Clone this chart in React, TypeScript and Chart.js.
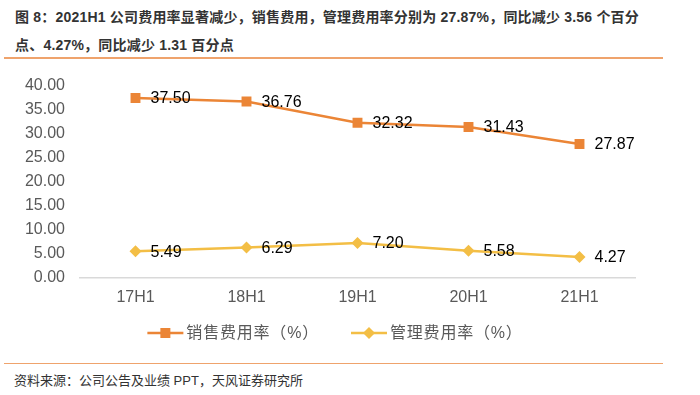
import React, { useEffect, useRef } from "react";
import { Chart, registerables } from "chart.js";

Chart.register(...registerables);

const categories = ["17H1", "18H1", "19H1", "20H1", "21H1"];
const salesRate = [37.5, 36.76, 32.32, 31.43, 27.87];
const adminRate = [5.49, 6.29, 7.2, 5.58, 4.27];
const yTicks = [0, 5, 10, 15, 20, 25, 30, 35, 40];
const seriesNames = ["销售费用率（%）", "管理费用率（%）"];

const ORANGE = "#EB8536";
const YELLOW = "#F3BE45";
const FONT = '"Liberation Sans", "Noto Sans CJK SC", Arial, sans-serif';

const dataLabels = {
  id: "dataLabels",
  afterDatasetsDraw(chart: any) {
    const ctx = chart.ctx;
    ctx.save();
    ctx.font = `16px ${FONT}`;
    ctx.fillStyle = "#000";
    ctx.textAlign = "left";
    ctx.textBaseline = "middle";
    chart.data.datasets.forEach((ds: any, i: number) => {
      const meta = chart.getDatasetMeta(i);
      meta.data.forEach((pt: any, j: number) => {
        ctx.fillText(Number(ds.data[j]).toFixed(2), pt.x + 15, pt.y + 1);
      });
    });
    ctx.restore();
  },
};

const customLegend = {
  id: "customLegend",
  afterDraw(chart: any) {
    const ctx = chart.ctx;
    ctx.save();
    ctx.font = `16px ${FONT}`;
    (ctx as any).letterSpacing = "0.8px";
    const y = 273;
    const lineLen = 36;
    const gapText = 3;
    const gapItems = 32;
    const widths = chart.data.datasets.map((ds: any) => lineLen + gapText + ctx.measureText(ds.label).width);
    const total = widths.reduce((a: number, b: number) => a + b, 0) + gapItems * (widths.length - 1);
    let x = 335 - total / 2;
    chart.data.datasets.forEach((ds: any, i: number) => {
      ctx.strokeStyle = ds.borderColor;
      ctx.lineWidth = 2.5;
      ctx.beginPath();
      ctx.moveTo(x, y);
      ctx.lineTo(x + lineLen, y);
      ctx.stroke();
      ctx.fillStyle = ds.backgroundColor;
      const cx = x + lineLen / 2;
      if (ds.pointStyle === "rect") {
        ctx.fillRect(cx - 5, y - 5, 10, 10);
      } else {
        ctx.beginPath();
        ctx.moveTo(cx, y - 6);
        ctx.lineTo(cx + 6, y);
        ctx.lineTo(cx, y + 6);
        ctx.lineTo(cx - 6, y);
        ctx.closePath();
        ctx.fill();
      }
      ctx.fillStyle = "#595959";
      ctx.textAlign = "left";
      ctx.textBaseline = "middle";
      ctx.fillText(ds.label, x + lineLen + gapText, y + 1);
      x += widths[i] + gapItems;
    });
    ctx.restore();
  },
};

export default function App() {
  const ref = useRef<HTMLCanvasElement>(null);
  useEffect(() => {
    if (!ref.current) return;
    const chart = new Chart(ref.current, {
      type: "line",
      data: {
        labels: categories,
        datasets: [
          {
            label: seriesNames[0],
            data: salesRate,
            borderColor: ORANGE,
            backgroundColor: ORANGE,
            borderWidth: 2.5,
            pointStyle: "rect",
            pointRadius: 7,
            pointHoverRadius: 7,
            pointBorderWidth: 0,
            tension: 0,
          },
          {
            label: seriesNames[1],
            data: adminRate,
            borderColor: YELLOW,
            backgroundColor: YELLOW,
            borderWidth: 2.5,
            pointStyle: "rectRot",
            pointRadius: 6,
            pointHoverRadius: 6,
            pointBorderWidth: 0,
            tension: 0,
          },
        ],
      },
      options: {
        animation: false,
        responsive: false,
        events: [],
        layout: { padding: { top: 26, right: 65, left: 0, bottom: 32.5 } },
        plugins: { legend: { display: false }, tooltip: { enabled: false } },
        scales: {
          x: {
            offset: true,
            grid: { display: false, drawTicks: false },
            border: { display: true, color: "#D9D9D9", width: 1.5 },
            ticks: { color: "#595959", font: { size: 16, family: FONT }, padding: 10 },
            afterFit(scale: any) {
              scale.height = 40;
            },
          },
          y: {
            min: 0,
            max: 40,
            afterBuildTicks(scale: any) {
              scale.ticks = yTicks.map((v) => ({ value: v }));
            },
            grid: { display: false, drawTicks: false },
            border: { display: false },
            ticks: {
              color: "#595959",
              font: { size: 16, family: FONT },
              padding: 15,
              callback: (v: any) => Number(v).toFixed(2),
            },
            afterFit(scale: any) {
              scale.width = 80;
            },
          },
        },
      },
      plugins: [dataLabels, customLegend],
    });
    return () => chart.destroy();
  }, []);

  return (
    <div
      style={{
        position: "fixed",
        left: 0,
        top: 0,
        width: 700,
        height: 395,
        background: "#fff",
        fontFamily: FONT,
        overflow: "hidden",
      }}
    >
      <div
        style={{
          position: "absolute",
          left: 15,
          top: 3,
          fontSize: 14,
          fontWeight: "bold",
          lineHeight: "28px",
          color: "#333",
          whiteSpace: "nowrap",
          letterSpacing: "0.2px",
        }}
      >
        图 8：2021H1 公司费用率显著减少，销售费用，管理费用率分别为 27.87%，同比减少 3.56 个百分
        <br />
        点、4.27%，同比减少 1.31 百分点
      </div>
      <div style={{ position: "absolute", left: 4, top: 57, width: 659, height: 1.5, background: "#EFA36C" }} />
      <canvas ref={ref} width={700} height={290} style={{ position: "absolute", left: 0, top: 60, width: 700, height: 290 }} />
      <div style={{ position: "absolute", left: 4, top: 362.5, width: 659, height: 1.5, background: "#EFA36C" }} />
      <div
        style={{
          position: "absolute",
          left: 14,
          top: 372,
          fontSize: 13,
          lineHeight: "18px",
          color: "#333",
          whiteSpace: "nowrap",
        }}
      >
        资料来源：公司公告及业绩 PPT，天风证券研究所
      </div>
    </div>
  );
}
